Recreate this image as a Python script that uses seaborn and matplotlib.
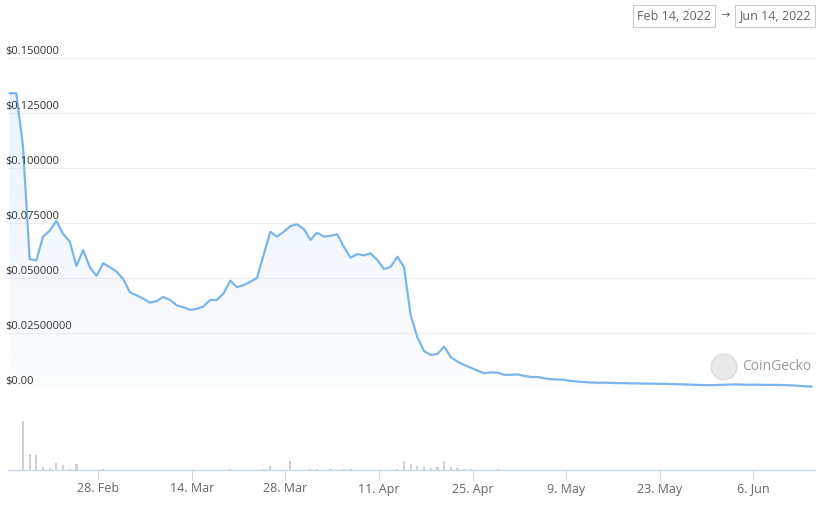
import numpy as np
import pandas as pd
import matplotlib
matplotlib.use("Agg")
import matplotlib.pyplot as plt
import matplotlib.dates as mdates
from matplotlib.patches import Ellipse
import seaborn as sns

# daily prices (USD), Feb 14 -> Jun 14 2022
price = [
    0.1340, 0.1340, 0.1100, 0.0586, 0.0580, 0.0688, 0.0715, 0.0760, 0.0700, 0.0665,
    0.0555, 0.0627, 0.0549, 0.0510, 0.0567, 0.0549, 0.0529, 0.0495, 0.0435, 0.0421,
    0.0406, 0.0388, 0.0395, 0.0414, 0.0400, 0.0376, 0.0367, 0.0355, 0.0360, 0.0371,
    0.0400, 0.0400, 0.0430, 0.0488, 0.0459, 0.0467, 0.0483, 0.0500, 0.0605, 0.0710,
    0.0688, 0.0710, 0.0736, 0.0744, 0.0723, 0.0673, 0.0706, 0.0688, 0.0692, 0.0699,
    0.0642, 0.0592, 0.0609, 0.0603, 0.0612, 0.0582, 0.0541, 0.0551, 0.0597, 0.0549,
    0.0330, 0.0230, 0.0168, 0.0150, 0.0155, 0.0188, 0.0140, 0.0120, 0.0105, 0.0092,
    0.0079, 0.0067, 0.0071, 0.0070, 0.0060, 0.0060, 0.0062, 0.0055, 0.0050, 0.0050,
    0.0044, 0.0040, 0.0039, 0.0037, 0.0032, 0.0029, 0.0027, 0.0025, 0.0024, 0.0024,
    0.0023, 0.0022, 0.0022, 0.0021, 0.0021, 0.0020, 0.0020, 0.0019, 0.0019, 0.0018,
    0.0017, 0.0016, 0.0015, 0.0014, 0.0013, 0.0013, 0.0014, 0.0015, 0.0016, 0.0016,
    0.0015, 0.0015, 0.0015, 0.0014, 0.0014, 0.0014, 0.0013, 0.0012, 0.0010, 0.0008,
    0.0006,
]

# trading volume (relative units)
volume = [
    0, 0, 49, 16, 15.5, 3, 2.5, 7, 5, 1,
    6, 0, 0, 0, 0.8, 0, 0, 0, 0, 0,
    0, 0, 0, 0, 0, 0, 0, 0, 0, 0,
    0, 0, 0, 0.8, 0, 0, 0, 0, 1.5, 4.5,
    0, 0, 9, 0, 0, 1, 1.2, 0, 1, 0,
    0.8, 1.2, 0, 0, 0, 0, 0, 0, 0.6, 9,
    6, 4, 3, 2.5, 3.5, 9, 3, 2, 1, 1,
    0.5, 0, 0, 0.6, 0, 0, 0.5, 0, 0, 0,
    0, 0, 0, 0, 0, 0, 0, 0, 0, 0,
    0, 0, 0, 0, 0, 0, 0, 0, 0, 0,
    0, 0, 0, 0, 0, 0, 0, 0, 0, 0,
    0, 0, 0, 0, 0, 0, 0, 0, 0, 0,
    0,
]

ytick_vals = [0, 0.025, 0.05, 0.075, 0.1, 0.125, 0.15]
ytick_labels = ["$0.00", "$0.02500000", "$0.050000", "$0.075000",
                "$0.100000", "$0.125000", "$0.150000"]
xtick_dates = ["2022-02-28", "2022-03-14", "2022-03-28", "2022-04-11",
               "2022-04-25", "2022-05-09", "2022-05-23", "2022-06-06"]
xtick_labels = ["28. Feb", "14. Mar", "28. Mar", "11. Apr",
                "25. Apr", "9. May", "23. May", "6. Jun"]

dates = pd.date_range("2022-02-14 18:00", periods=len(price), freq="D")
df = pd.DataFrame({"date": dates, "price": price, "volume": volume})

sns.set_theme(style="white")
plt.rcParams["font.family"] = ["Open Sans", "DejaVu Sans"]

LINE = "#7cb5ec"
W, H = 820, 508
fig = plt.figure(figsize=(W / 100, H / 100), dpi=100)


def px_axes(x0, y0, x1, y1):
    return fig.add_axes([x0 / W, 1 - y1 / H, (x1 - x0) / W, (y1 - y0) / H])


ax = px_axes(8, 58, 815, 388)
axv = px_axes(8, 395, 815, 470)

xmin = pd.Timestamp("2022-02-14 12:15")
xmax = pd.Timestamp("2022-06-15 05:30")

# price line + gradient fill
for v in ytick_vals:
    ax.axhline(v, color="#eeeeee", lw=0.8, zorder=0)
poly = ax.fill_between(df["date"], df["price"], 0, color="none", lw=0)
rgba = np.zeros((256, 1, 4))
rgba[..., :3] = matplotlib.colors.to_rgb(LINE)
rgba[:, 0, 3] = np.linspace(0.16, 0.02, 256)
im = ax.imshow(rgba, aspect="auto", origin="upper",
               extent=[mdates.date2num(xmin), mdates.date2num(xmax), 0, 0.134],
               zorder=1)
im.set_clip_path(poly.get_paths()[0], transform=ax.transData)
sns.lineplot(data=df, x="date", y="price", ax=ax, color=LINE, lw=1.6, zorder=3)

ax.set_xlim(xmin, xmax)
ax.set_ylim(0, 0.15)
ax.set_xticks([])
ax.set_yticks([])
ax.set_xlabel("")
ax.set_ylabel("")
for s in ax.spines.values():
    s.set_visible(False)
ax.patch.set_alpha(0)
for v, lab in zip(ytick_vals, ytick_labels):
    ax.annotate(lab, xy=(-3 / 807, v), xycoords=ax.get_yaxis_transform(),
                xytext=(0, 1), textcoords="offset points",
                ha="left", va="bottom", fontsize=8, color="#333333")

# volume bars
axv.bar(df["date"], df["volume"], width=0.32, color="#d0d0d0", lw=0)
axv.set_xlim(xmin, xmax)
axv.set_ylim(0, 75)
axv.set_yticks([])
axv.set_xticks(pd.to_datetime(xtick_dates))
axv.set_xticklabels(xtick_labels, fontsize=9, color="#666666")
axv.tick_params(axis="x", length=7, width=0.8, color="#ccd6eb", pad=2, bottom=True)
for k, s in axv.spines.items():
    s.set_visible(k == "bottom")
axv.spines["bottom"].set_color("#ccd6eb")
axv.spines["bottom"].set_linewidth(1)
axv.patch.set_alpha(0)

# date range boxes
box = dict(boxstyle="square,pad=0.35", fc="white", ec="#cccccc", lw=0.8)
fig.text(674 / W, 1 - 16 / H, "Feb 14, 2022", ha="center", va="center",
         fontsize=9, color="#666666", bbox=box)
fig.text(725 / W, 1 - 16 / H, "→", ha="center", va="center",
         fontsize=8, color="#666666")
fig.text(775 / W, 1 - 16 / H, "Jun 14, 2022", ha="center", va="center",
         fontsize=9, color="#666666", bbox=box)

# watermark
fig.patches.append(Ellipse((724 / W, 1 - 367 / H), 26 / W, 26 / H,
                           transform=fig.transFigure, fc="#e6e6e6", ec="#d8d8d8",
                           lw=0.8, alpha=0.85))
fig.text(742 / W, 1 - 367 / H, "CoinGecko", ha="left", va="center",
         fontsize=10, color="#9a9a9a")

fig.savefig("out.png", dpi=100)
